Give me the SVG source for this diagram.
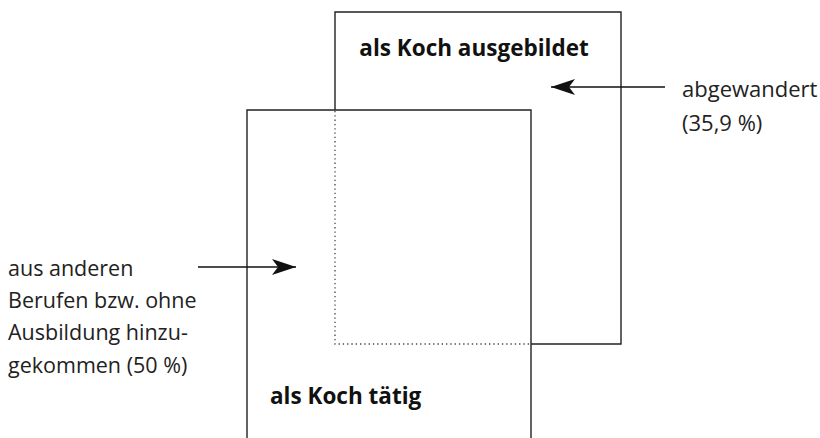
<svg xmlns="http://www.w3.org/2000/svg" width="820" height="438" viewBox="0 0 820 438">
<style>
.box{fill:none;stroke:#222;stroke-width:1.4}
.dot{fill:none;stroke:#444;stroke-width:1.3;stroke-dasharray:1.3 3}
.con{stroke:#111;stroke-width:1.4;fill:none}
.title{font-family:"Open Sans","Liberation Sans",sans-serif;font-weight:700;font-size:22.5px;fill:#111}
.lbl{font-family:"Open Sans","Liberation Sans",sans-serif;font-size:21.5px;fill:#222}
</style>
<defs>
<marker id="ah" markerWidth="24" markerHeight="16" refX="24" refY="8" orient="auto" markerUnits="userSpaceOnUse">
<path d="M0,0 L24,8 L0,16 L6,8 Z" fill="#111"/>
</marker>
</defs>
<rect width="820" height="438" fill="#fff"/>
<g id="ausgebildet">
<path class="box" d="M335,110 V12 H621 V344 H531"/>
<path class="dot" d="M335,111 V344 H531"/>
<text class="title" x="474" y="56" text-anchor="middle">als Koch ausgebildet</text>
</g>
<g id="taetig">
<path class="box" d="M247,440 V110 H531 V440"/>
<text class="title" x="270" y="404">als Koch tätig</text>
</g>
<g id="abgewandert">
<text class="lbl" x="682" y="97" style="font-size:22px">abgewandert</text>
<text class="lbl" x="682" y="131" style="font-size:22px">(35,9 %)</text>
</g>
<g id="hinzugekommen">
<text class="lbl" x="8" y="276">aus anderen</text>
<text class="lbl" x="8" y="308">Berufen bzw. ohne</text>
<text class="lbl" x="8" y="340">Ausbildung hinzu-</text>
<text class="lbl" x="8" y="373">gekommen (50 %)</text>
</g>
<g id="connectors">
<line class="con" x1="665" y1="87" x2="551" y2="87" marker-end="url(#ah)"/>
<line class="con" x1="198" y1="267" x2="296" y2="267" marker-end="url(#ah)"/>
</g>
</svg>
